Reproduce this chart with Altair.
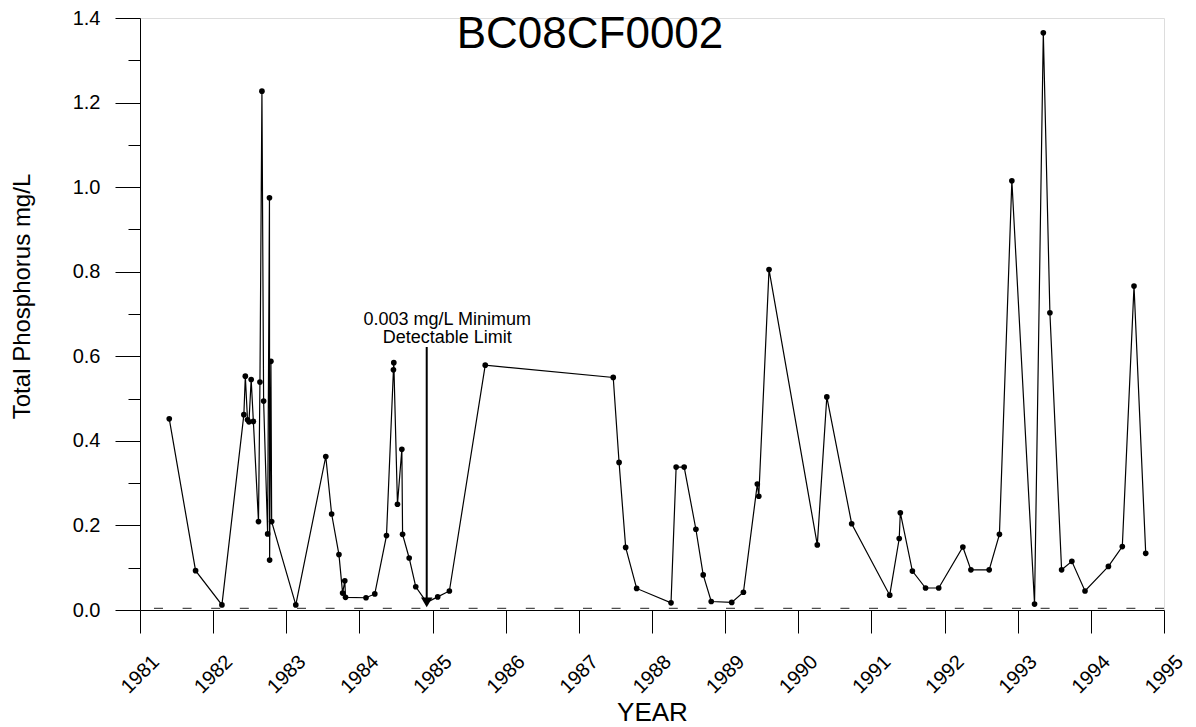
import altair as alt
import pandas as pd

TITLE = "BC08CF0002"
X_TITLE = "YEAR"
Y_TITLE = "Total Phosphorus mg/L"

YEARS = [
    1981.40, 1981.76, 1982.12, 1982.42, 1982.44, 1982.47, 1982.49, 1982.52, 1982.55,
    1982.62, 1982.64, 1982.667, 1982.69, 1982.745, 1982.77, 1982.772, 1982.79, 1982.80,
    1983.13, 1983.54, 1983.62, 1983.72, 1983.77, 1983.80, 1983.81, 1984.09, 1984.21,
    1984.37, 1984.465, 1984.47, 1984.52, 1984.58, 1984.59, 1984.68, 1984.77, 1984.92,
    1985.07, 1985.23, 1985.72, 1987.47, 1987.55, 1987.64, 1987.79, 1988.26, 1988.33,
    1988.44, 1988.60, 1988.70, 1988.81, 1989.09, 1989.25, 1989.44, 1989.46, 1989.60,
    1990.26, 1990.39, 1990.73, 1991.25, 1991.38, 1991.395, 1991.56, 1991.74, 1991.92,
    1992.25, 1992.36, 1992.61, 1992.75, 1992.92, 1993.23, 1993.35, 1993.44, 1993.60,
    1993.74, 1993.92, 1994.24, 1994.43, 1994.59, 1994.75,
]
TP = [
    0.452, 0.093, 0.012, 0.462, 0.553, 0.450, 0.445, 0.545, 0.446,
    0.209, 0.539, 1.227, 0.494, 0.180, 0.975, 0.118, 0.588, 0.209,
    0.012, 0.363, 0.227, 0.131, 0.040, 0.069, 0.030, 0.029, 0.038,
    0.176, 0.568, 0.585, 0.250, 0.380, 0.179, 0.123, 0.055, 0.018,
    0.031, 0.045, 0.579, 0.550, 0.349, 0.148, 0.051, 0.017, 0.338,
    0.338, 0.191, 0.083, 0.020, 0.018, 0.042, 0.298, 0.269, 0.805,
    0.154, 0.504, 0.204, 0.035, 0.169, 0.230, 0.092, 0.052, 0.052,
    0.149, 0.095, 0.095, 0.179, 1.015, 0.014, 1.365, 0.703, 0.095,
    0.115, 0.045, 0.103, 0.150, 0.766, 0.134,
]
# sample reported below the detection limit (drawn with the arrow head, no dot)
BELOW_DL_YEAR = 1984.92

DETECTION_LIMIT_LEVEL = 0.004
ANNOT_LINES = ["0.003 mg/L Minimum", "Detectable Limit"]
ANNOT_TEXT_YEAR = 1985.2
ANNOT_TEXT_VALUE = 0.675
ARROW_YEAR = 1984.92
ARROW_TOP = 0.622
ARROW_TIP = 0.018

YEAR_TICKS = list(range(1981, 1996))
Y_MAJOR = [0.0, 0.2, 0.4, 0.6, 0.8, 1.0, 1.2, 1.4]
Y_MINOR = [0.1, 0.3, 0.5, 0.7, 0.9, 1.1, 1.3]

FONT = "Liberation Sans"

df = pd.DataFrame({"year": YEARS, "tp": TP})
df["below"] = df["year"] == BELOW_DL_YEAR
dl_df = pd.DataFrame({"dl": [DETECTION_LIMIT_LEVEL]})
arrow_df = pd.DataFrame({"year": [ARROW_YEAR], "top": [ARROW_TOP], "tip": [ARROW_TIP]})
text_df = pd.DataFrame({"year": [ANNOT_TEXT_YEAR], "v": [ANNOT_TEXT_VALUE]})

x_scale = alt.Scale(domain=[1981, 1995], nice=False, zero=False)
y_scale = alt.Scale(domain=[0, 1.4], nice=False, zero=False)

x_axis = alt.Axis(
    values=YEAR_TICKS, format="d", labelAngle=315, labelAlign="center",
    labelBaseline="middle", tickSize=23, labelPadding=41, labelFontSize=20,
    labelFont=FONT, labelColor="black", labelFlush=False, labelOverlap=False,
    title=X_TITLE, titleFont=FONT, titleFontSize=26, titleFontWeight="normal",
    titleColor="black", titleBaseline="alphabetic", titleY=110, titleX=512,
    titleAlign="center", grid=False, domainColor="black", tickColor="black",
    domainWidth=1, tickWidth=1,
)
y_axis = alt.Axis(
    values=Y_MAJOR, format=".1f", tickSize=25, labelPadding=15, labelFontSize=20,
    labelFont=FONT, labelColor="black", labelFlush=False, labelOverlap=False,
    title=Y_TITLE, titleFont=FONT, titleFontSize=24, titleFontWeight="normal",
    titleColor="black", titleAngle=270, titleBaseline="alphabetic",
    titleAlign="center", titleX=-111, titleY=278, grid=False,
    domainColor="black", tickColor="black", orient="left",
)
y_minor_axis = alt.Axis(
    values=Y_MINOR, tickSize=12, labels=False, domain=False, title=None,
    grid=False, tickColor="black", orient="left",
)

X = alt.X("year:Q", scale=x_scale, axis=x_axis)

line = alt.Chart(df).mark_line(color="black", strokeWidth=1.2).encode(
    x=X, y=alt.Y("tp:Q", scale=y_scale, axis=y_axis)
)
dots = alt.Chart(df).transform_filter("!datum.below").mark_circle(
    color="black", size=32, opacity=1
).encode(x=alt.X("year:Q", scale=x_scale), y=alt.Y("tp:Q", scale=y_scale, axis=None))

minor = alt.Chart(df).mark_point(opacity=0).encode(
    x=alt.X("year:Q", scale=x_scale),
    y=alt.Y("tp:Q", scale=y_scale, axis=y_minor_axis),
)

dl_rule = alt.Chart(dl_df).mark_rule(
    color="#222222", strokeWidth=1, strokeDash=[9, 19.6]
).encode(y=alt.Y("dl:Q", scale=y_scale, axis=None))

arrow = alt.Chart(arrow_df).mark_rule(color="black", strokeWidth=2).encode(
    x=alt.X("year:Q", scale=x_scale),
    y=alt.Y("top:Q", scale=y_scale, axis=None),
    y2="tip:Q",
)
head = alt.Chart(arrow_df).mark_point(
    shape="triangle-down", filled=True, size=130, color="black", opacity=1
).encode(x=alt.X("year:Q", scale=x_scale), y=alt.Y("tip:Q", scale=y_scale, axis=None))

annot = alt.Chart(text_df).mark_text(
    font=FONT, fontSize=18, color="black", align="center",
    baseline="alphabetic", lineHeight=18,
).encode(
    x=alt.X("year:Q", scale=x_scale),
    y=alt.Y("v:Q", scale=y_scale, axis=None),
    text=alt.value(ANNOT_LINES),
)

chart = alt.layer(line, minor, dl_rule, dots, arrow, head, annot).resolve_axis(
    y="independent"
).properties(
    width=1024,
    height=592,
    padding={"left": 132, "top": 10, "right": 24, "bottom": 117},
    autosize=alt.AutoSizeParams(type="none"),
    title=alt.TitleParams(
        text=TITLE, font=FONT, fontSize=44, fontWeight="normal", color="black",
        anchor="middle", baseline="alphabetic", offset=-84, dx=-62,
    ),
).configure_view(stroke=None).configure(background="white")

chart.save("out.html", embed_options={"renderer": "svg", "actions": False})
